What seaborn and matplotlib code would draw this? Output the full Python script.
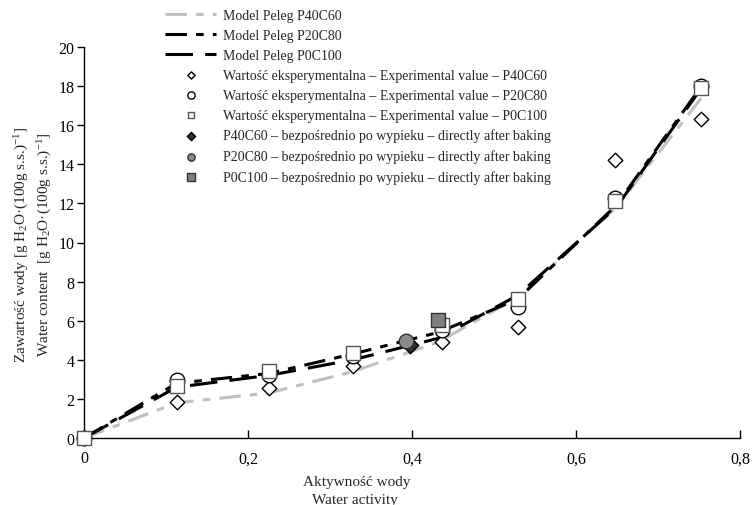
import numpy as np
import pandas as pd
import seaborn as sns
import matplotlib.pyplot as plt
from matplotlib.ticker import FuncFormatter

# water activity of the model curves and of the experimental points
aw_model = [0, 0.113, 0.225, 0.328, 0.432, 0.529, 0.649, 0.753]
peleg_p40c60 = [0, 1.8, 2.3, 3.4, 4.9, 7.2, 11.8, 17.4]
peleg_p20c80 = [0, 2.8, 3.3, 4.3, 5.4, 7.1, 11.9, 18.0]
peleg_p0c100 = [0, 2.6, 3.2, 4.0, 5.1, 7.3, 11.8, 17.9]

aw_exp = [0, 0.113, 0.225, 0.328, 0.437, 0.529, 0.648, 0.752]
exp_p40c60 = [0, 1.85, 2.55, 3.7, 4.9, 5.7, 14.2, 16.3]
exp_p20c80 = [0, 2.95, 3.2, 4.2, 5.5, 6.7, 12.3, 18.0]
exp_p0c100 = [0, 2.65, 3.45, 4.35, 5.8, 7.1, 12.1, 17.9]

# samples measured directly after baking
aw_baked = [0.398, 0.393, 0.432]
wc_baked = [4.75, 4.95, 6.05]

sns.set_style("white")
plt.rcParams['font.family'] = ['Liberation Serif', 'DejaVu Serif']
plt.rcParams['mathtext.default'] = 'regular'

fig = plt.figure(figsize=(7.52, 5.06), dpi=100)
ax = fig.add_axes([84/752, 1-439/506, 656/752, 391/506])

sns.lineplot(x=aw_model, y=peleg_p40c60, ax=ax, color='#c0c0c0', lw=2.2,
             linestyle=(0, (7, 3, 2.5, 3)), label='Model Peleg P40C60')
sns.lineplot(x=aw_model, y=peleg_p20c80, ax=ax, color='black', lw=2.2,
             linestyle=(0, (7, 3, 2.5, 3)), label='Model Peleg P20C80')
sns.lineplot(x=aw_model, y=peleg_p0c100, ax=ax, color='black', lw=2.2,
             linestyle=(0, (9, 4)), label='Model Peleg P0C100')

sns.scatterplot(x=aw_exp, y=exp_p40c60, ax=ax, marker='D', s=55, color='white',
                edgecolor='black', linewidth=1, zorder=3, clip_on=False,
                label='Wartość eksperymentalna – Experimental value – P40C60')
sns.scatterplot(x=aw_exp, y=exp_p20c80, ax=ax, marker='o', s=110, color='white',
                edgecolor='black', linewidth=1, zorder=4, clip_on=False,
                label='Wartość eksperymentalna – Experimental value – P20C80')
sns.scatterplot(x=aw_exp, y=exp_p0c100, ax=ax, marker='s', s=90, color='white',
                edgecolor='#555555', linewidth=1, zorder=5, clip_on=False,
                label='Wartość eksperymentalna – Experimental value – P0C100')

sns.scatterplot(x=aw_baked[:1], y=wc_baked[:1], ax=ax, marker='D', s=70, color='#333333',
                edgecolor='black', linewidth=1, zorder=6,
                label='P40C60 – bezpośrednio po wypieku – directly after baking')
sns.scatterplot(x=aw_baked[1:2], y=wc_baked[1:2], ax=ax, marker='o', s=110, color='#8c8c8c',
                edgecolor='#333333', linewidth=1, zorder=7,
                label='P20C80 – bezpośrednio po wypieku – directly after baking')
sns.scatterplot(x=aw_baked[2:], y=wc_baked[2:], ax=ax, marker='s', s=110, color='#808080',
                edgecolor='#333333', linewidth=1, zorder=8,
                label='P0C100 – bezpośrednio po wypieku – directly after baking')

ax.set_xlim(0, 0.8)
ax.set_ylim(0, 20)
ax.set_xticks(np.arange(0, 0.81, 0.2))
ax.set_yticks(np.arange(0, 21, 2))
ax.xaxis.set_major_formatter(FuncFormatter(lambda v, p: ('%g' % round(v, 1)).replace('.', ',')))
ax.tick_params(axis='x', direction='in', length=6, width=1, labelsize=11.5, pad=9, colors='black')
ax.tick_params(axis='y', direction='out', length=5, width=1, labelsize=11.5, pad=2, colors='black')
ax.tick_params(left=True, bottom=True)
sns.despine(ax=ax)
for s in ['left', 'bottom']:
    ax.spines[s].set_color('black')
    ax.spines[s].set_linewidth(1)
ax.set_xlabel('')
ax.set_ylabel('')

fig.text(22/752, 1-245/506, 'Zawartość wody [g H$_2$O·(100g s.s.)$^{-1}$]', rotation=90,
         ha='center', va='center', fontsize=11)
fig.text(45/752, 1-245/506, 'Water content  [g H$_2$O·(100g s.s.)$^{-1}$]', rotation=90,
         ha='center', va='center', fontsize=11)
fig.text(357/752, 1-483/506, 'Aktywność wody', ha='center', va='center', fontsize=11)
fig.text(355/752, 1-501/506, 'Water activity', ha='center', va='center', fontsize=11)

handles, labels = ax.get_legend_handles_labels()
ax.legend_.remove() if ax.legend_ else None
fig.legend(handles, labels, loc='upper left', bbox_to_anchor=(165/752, 1-10/506),
           frameon=False, fontsize=10, handlelength=3.7, handletextpad=0.45,
           labelspacing=0.5, markerscale=0.5, borderaxespad=0, borderpad=0)

fig.savefig('out.png', dpi=100)
